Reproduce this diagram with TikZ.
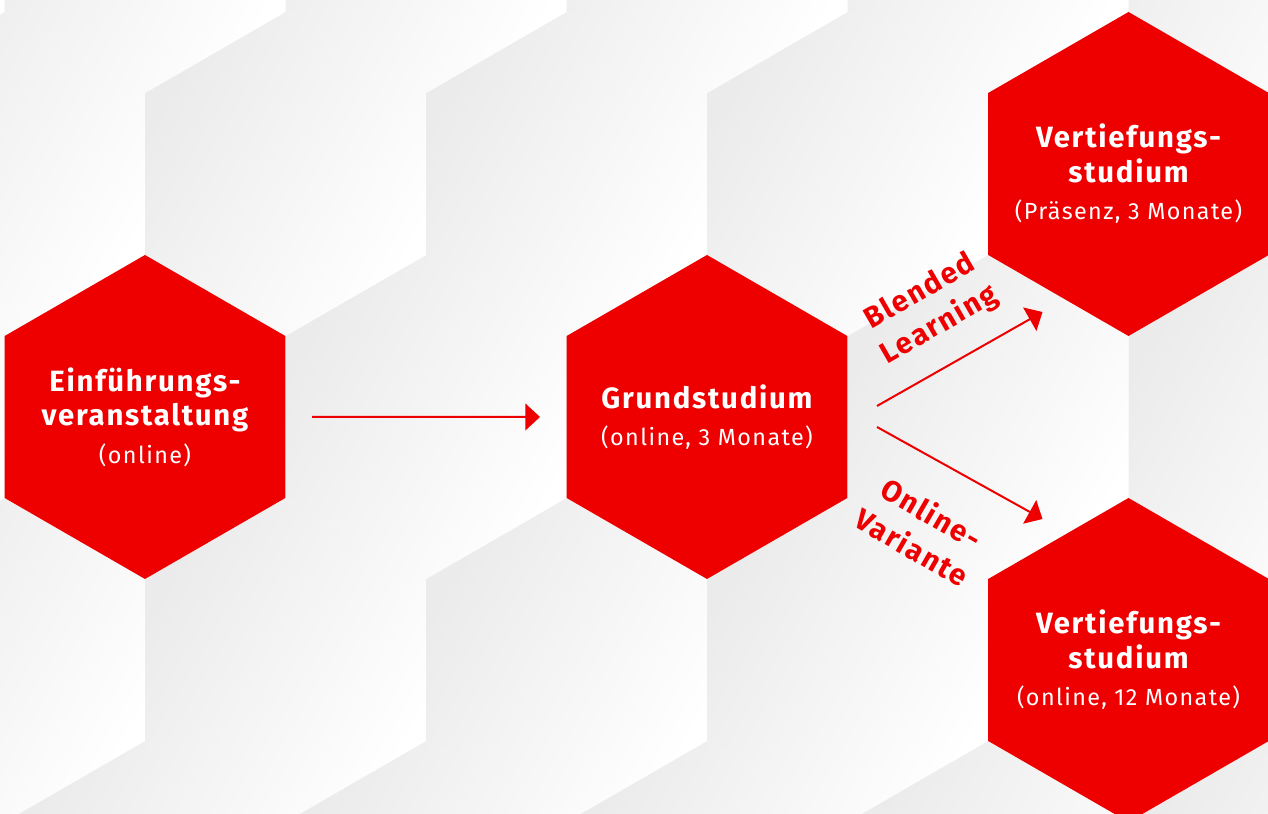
\documentclass[tikz,border=0pt]{standalone}
\usepackage{fontspec}
\setmainfont{Fira Sans}[LetterSpace=6]
\usepackage{xcolor}
\usetikzlibrary{positioning,calc,shapes.geometric,arrows.meta}

\definecolor{hexred}{HTML}{EE0000}
\newcommand{\hexsub}[1]{{\fontsize{17.5}{21}\selectfont\mdseries #1}}

\begin{document}
\begin{tikzpicture}[x=0.75pt,y=0.75pt,
    hexbox/.style={regular polygon, regular polygon sides=6, regular polygon rotate=30,
      minimum size=243pt, inner sep=-40pt, outer sep=0pt, fill=hexred, text=white,
      align=center, font=\fontsize{22}{26}\selectfont\bfseries},
    bghex/.style={top color=black!8, bottom color=white, shading angle=60},
    flow/.style={draw=hexred, line width=1.5pt, -{Triangle[length=11pt,width=20pt]}},
    lbl/.style={text=hexred, align=center, font=\fontsize{22}{29}\selectfont\bfseries}]

  \useasboundingbox (0,0) rectangle (1268,814);
  \clip (0,0) rectangle (1268,814);
  \fill[white] (0,0) rectangle (1268,814);

  % Wabenraster im Hintergrund
  \foreach \k/\off in {-2/0,-1/140.5,0/0,1/140.5,2/0}
    \foreach \n in {-1,...,4}
      \path[bghex] ({145+281*\n+\off},{397+243*\k})
        +(90:162) -- +(150:162) -- +(210:162) -- +(270:162) -- +(330:162) -- +(30:162) -- cycle;

  % Studienphasen
  \node[hexbox] (einf) at (145,397) {Einführungs-\\veranstaltung\\[2pt]\hexsub{(online)}};
  \node[hexbox] (grund) at (707,397) {Grundstudium\\[2pt]\hexsub{(online, 3 Monate)}};
  \node[hexbox] (vtop) at (1128.5,640) {Vertiefungs-\\studium\\[2pt]\hexsub{(Präsenz, 3 Monate)}};
  \node[hexbox] (vbot) at (1128.5,154) {Vertiefungs-\\studium\\[2pt]\hexsub{(online, 12 Monate)}};

  % Endpunkte der schraegen Pfeile
  \coordinate (upS) at ($(grund.center)+(170,11)$);
  \coordinate (upE) at ($(vtop.center)+(-86,-138)$);
  \coordinate (dnS) at ($(grund.center)+(170,-10)$);
  \coordinate (dnE) at ($(vbot.center)+(-86,141)$);

  \draw[flow, shorten <=20pt, shorten >=20pt] (einf) -- (grund);
  \draw[flow] (upS) -- (upE);
  \draw[flow] (dnS) -- (dnE);

  % Varianten
  \node[lbl, rotate=30] (blend) at (930,505) {Blended\\Learning};
  \node[lbl, rotate=-30] (onvar) at (922,284) {Online-\\Variante};
\end{tikzpicture}
\end{document}
